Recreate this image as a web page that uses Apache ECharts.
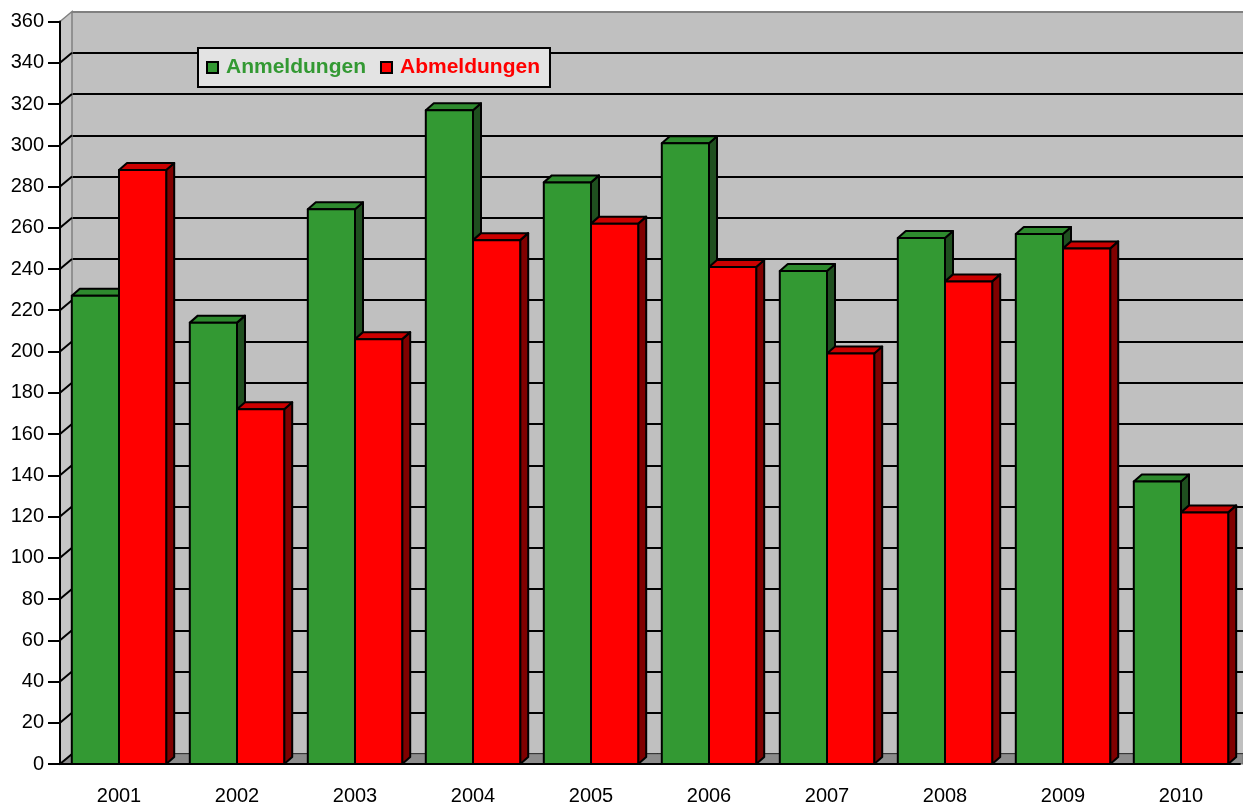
<!DOCTYPE html>
<html>
<head>
<meta charset="utf-8">
<script src="https://cdn.jsdelivr.net/npm/echarts@6/dist/echarts.min.js"></script>
<style>
  html, body { margin: 0; padding: 0; background: #fff; }
  #chart { width: 1243px; height: 803px; }
</style>
</head>
<body>
<div id="chart"></div>
<script>
const years = ["2001", "2002", "2003", "2004", "2005", "2006", "2007", "2008", "2009", "2010"];
const anmeldungen = [227, 214, 269, 317, 282, 301, 239, 255, 257, 137];
const abmeldungen = [288, 172, 206, 254, 262, 241, 199, 234, 250, 122];
const yTicks = [0, 20, 40, 60, 80, 100, 120, 140, 160, 180, 200, 220, 240, 260, 280, 300, 320, 340, 360];

// Achsen / Wand
const GL = 60, GT = 21.5, GB = 39, GR = 3;
const WX = 12, WY = 10; // Tiefe der Rückwand
const BX = 8, BY = 7;   // Tiefe der Balken
const W = 1243, H = 803;

// 3D-Balken zeichnen (Front, Deckel, Seite)
function bar3d(offset, front, top, side) {
  return function (params, api) {
    const idx = api.value(0);
    const v = api.value(1);
    const band = api.size([1, 0])[0];
    const bw = band * 0.4;
    const c = api.coord([idx, v]);
    const b = api.coord([idx, 0]);
    const x0 = c[0] + offset * bw;
    const x1 = x0 + bw;
    const yt = c[1], yb = b[1];
    const st = { stroke: "#000", lineWidth: 2, lineJoin: "round" };
    return {
      type: "group",
      children: [
        {
          type: "polygon",
          shape: { points: [[x1, yt], [x1 + BX, yt - BY], [x1 + BX, yb - BY], [x1, yb]] },
          style: Object.assign({ fill: side }, st),
        },
        {
          type: "polygon",
          shape: { points: [[x0, yt], [x0 + BX, yt - BY], [x1 + BX, yt - BY], [x1, yt]] },
          style: Object.assign({ fill: top }, st),
        },
        {
          type: "rect",
          shape: { x: x0, y: yt, width: bw, height: yb - yt },
          style: Object.assign({ fill: front }, st),
        },
      ],
    };
  };
}

const gridLineColors = yTicks.map((t, i) => (i === yTicks.length - 1 ? "#808080" : "#000"));

let myChart = echarts.init(document.getElementById("chart"));
myChart.setOption({
  animation: false,
  textStyle: { fontFamily: "Liberation Sans, Arial, sans-serif" },
  legend: {
    left: 198,
    top: 48,
    padding: [9, 10, 9, 8],
    itemGap: 14,
    itemWidth: 11,
    itemHeight: 11,
    icon: "rect",
    backgroundColor: "#e3e3e3",
    borderColor: "#000",
    borderWidth: 2,
    itemStyle: { borderColor: "#000", borderWidth: 2 },
    textStyle: { fontSize: 21, fontWeight: "bold", padding: [0, 0, 0, 3] },
    data: [
      { name: "Anmeldungen", textStyle: { color: "#339933" } },
      { name: "Abmeldungen", textStyle: { color: "#ff0000" } },
    ],
  },
  grid: [
    // Vorderseite
    { left: GL, top: GT, bottom: GB, right: GR, outerBoundsMode: "none", containLabel: false },
    // Rückwand
    {
      left: GL + WX, top: GT - WY, bottom: GB + WY, right: 0,
      outerBoundsMode: "none", containLabel: false,
      show: true, backgroundColor: "#c0c0c0", borderWidth: 0,
    },
  ],
  xAxis: [
    {
      type: "category",
      gridIndex: 0,
      data: years,
      axisLine: { lineStyle: { color: "#000", width: 2 } },
      axisTick: { length: 10, lineStyle: { color: "#000", width: 2 } },
      axisLabel: { color: "#000", fontSize: 20, margin: 22 },
      z: 5,
    },
    { type: "category", gridIndex: 1, data: years, show: false },
  ],
  yAxis: [
    {
      type: "value",
      gridIndex: 0,
      min: 0,
      max: 360,
      interval: 20,
      axisLine: { show: true, lineStyle: { color: "#000", width: 2 } },
      axisTick: { show: true, length: 12, lineStyle: { color: "#000", width: 2 } },
      axisLabel: { color: "#000", fontSize: 20, margin: 16 },
      splitLine: { show: false },
      z: 5,
    },
    {
      type: "value",
      gridIndex: 1,
      min: 0,
      max: 360,
      interval: 20,
      axisLine: { show: false },
      axisTick: { show: false },
      axisLabel: { show: false },
      splitLine: { show: true, lineStyle: { color: gridLineColors, width: 2 } },
    },
  ],
  graphic: [
    {
      type: "polygon",
      z: 1,
      silent: true,
      shape: { points: [[GL, H - GB], [GL, GT], [GL + WX, GT - WY], [GL + WX, H - GB - WY]] },
      style: { fill: "#c6c6c6", stroke: "#808080", lineWidth: 1.5 },
    },
    {
      type: "polygon",
      z: 1,
      silent: true,
      shape: { points: [[GL, H - GB], [GL + WX, H - GB - WY], [W, H - GB - WY], [W, H - GB]] },
      style: { fill: "#8c8c8c", stroke: "#6e6e6e", lineWidth: 1 },
    },
  ],
  series: [
    {
      // schräge Linien an der Seitenwand
      type: "custom",
      xAxisIndex: 0,
      yAxisIndex: 0,
      silent: true,
      z: 3,
      data: yTicks.slice(0, -1).map((t) => [0, t]),
      renderItem: function (params, api) {
        const p = api.coord([0, api.value(1)]);
        const x = params.coordSys.x;
        return {
          type: "line",
          shape: { x1: x, y1: p[1], x2: x + WX, y2: p[1] - WY },
          style: { stroke: "#000", lineWidth: 2 },
        };
      },
    },
    {
      name: "Anmeldungen",
      type: "custom",
      xAxisIndex: 0,
      yAxisIndex: 0,
      z: 4,
      itemStyle: { color: "#339933" },
      encode: { x: 0, y: 1 },
      data: anmeldungen.map((v, i) => [i, v]),
      renderItem: bar3d(-1, "#339933", "#2e8a2e", "#1f4f1f"),
    },
    {
      name: "Abmeldungen",
      type: "custom",
      xAxisIndex: 0,
      yAxisIndex: 0,
      z: 4,
      itemStyle: { color: "#ff0000" },
      encode: { x: 0, y: 1 },
      data: abmeldungen.map((v, i) => [i, v]),
      renderItem: bar3d(0, "#ff0000", "#cc0000", "#800000"),
    },
  ],
});

window.addEventListener("resize", () => {
  myChart.resize();
});
</script>
</body>
</html>
